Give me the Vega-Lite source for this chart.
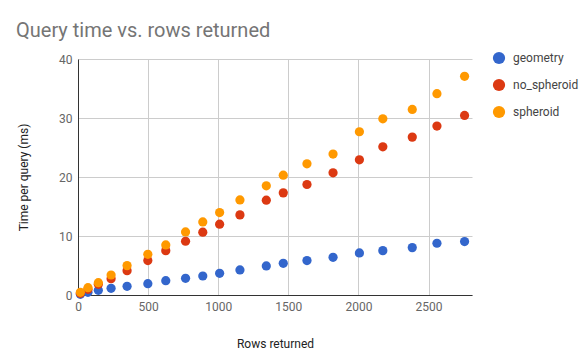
{
  "$schema": "https://vega.github.io/schema/vega-lite/v6.json",
  "autosize": "none",
  "padding": {"left": 78, "top": 59, "right": 114, "bottom": 64},
  "width": 394,
  "height": 236,
  "background": "white",
  "title": {
    "text": "Query time vs. rows returned",
    "anchor": "start",
    "frame": "group",
    "dx": -62,
    "offset": 10,
    "fontSize": 20,
    "font": "Roboto",
    "fontWeight": "normal",
    "color": "#757575"
  },
  "config": {
    "view": {"stroke": null},
    "font": "Roboto"
  },
  "data": {
    "values": [
      {"rows": 17, "series": "geometry", "time": 0.11},
      {"rows": 71, "series": "geometry", "time": 0.45},
      {"rows": 145, "series": "geometry", "time": 0.8},
      {"rows": 236, "series": "geometry", "time": 1.13},
      {"rows": 350, "series": "geometry", "time": 1.47},
      {"rows": 498, "series": "geometry", "time": 1.92},
      {"rows": 626, "series": "geometry", "time": 2.43},
      {"rows": 767, "series": "geometry", "time": 2.83},
      {"rows": 890, "series": "geometry", "time": 3.22},
      {"rows": 1010, "series": "geometry", "time": 3.68},
      {"rows": 1155, "series": "geometry", "time": 4.24},
      {"rows": 1343, "series": "geometry", "time": 4.92},
      {"rows": 1464, "series": "geometry", "time": 5.37},
      {"rows": 1633, "series": "geometry", "time": 5.83},
      {"rows": 1819, "series": "geometry", "time": 6.39},
      {"rows": 2007, "series": "geometry", "time": 7.13},
      {"rows": 2174, "series": "geometry", "time": 7.52},
      {"rows": 2384, "series": "geometry", "time": 8.03},
      {"rows": 2560, "series": "geometry", "time": 8.77},
      {"rows": 2757, "series": "geometry", "time": 9.05},
      {"rows": 17, "series": "no_spheroid", "time": 0.28},
      {"rows": 71, "series": "no_spheroid", "time": 0.96},
      {"rows": 145, "series": "no_spheroid", "time": 1.81},
      {"rows": 236, "series": "no_spheroid", "time": 2.77},
      {"rows": 350, "series": "no_spheroid", "time": 4.13},
      {"rows": 498, "series": "no_spheroid", "time": 5.83},
      {"rows": 626, "series": "no_spheroid", "time": 7.52},
      {"rows": 767, "series": "no_spheroid", "time": 9.11},
      {"rows": 890, "series": "no_spheroid", "time": 10.64},
      {"rows": 1010, "series": "no_spheroid", "time": 12.0},
      {"rows": 1155, "series": "no_spheroid", "time": 13.58},
      {"rows": 1343, "series": "no_spheroid", "time": 16.07},
      {"rows": 1464, "series": "no_spheroid", "time": 17.31},
      {"rows": 1633, "series": "no_spheroid", "time": 18.73},
      {"rows": 1819, "series": "no_spheroid", "time": 20.71},
      {"rows": 2007, "series": "no_spheroid", "time": 22.91},
      {"rows": 2174, "series": "no_spheroid", "time": 25.12},
      {"rows": 2384, "series": "no_spheroid", "time": 26.76},
      {"rows": 2560, "series": "no_spheroid", "time": 28.63},
      {"rows": 2757, "series": "no_spheroid", "time": 30.44},
      {"rows": 17, "series": "spheroid", "time": 0.45},
      {"rows": 71, "series": "spheroid", "time": 1.24},
      {"rows": 145, "series": "spheroid", "time": 2.09},
      {"rows": 236, "series": "spheroid", "time": 3.39},
      {"rows": 350, "series": "spheroid", "time": 4.98},
      {"rows": 498, "series": "spheroid", "time": 6.9},
      {"rows": 626, "series": "spheroid", "time": 8.49},
      {"rows": 767, "series": "spheroid", "time": 10.69},
      {"rows": 890, "series": "spheroid", "time": 12.39},
      {"rows": 1010, "series": "spheroid", "time": 13.97},
      {"rows": 1155, "series": "spheroid", "time": 16.12},
      {"rows": 1343, "series": "spheroid", "time": 18.5},
      {"rows": 1464, "series": "spheroid", "time": 20.31},
      {"rows": 1633, "series": "spheroid", "time": 22.24},
      {"rows": 1819, "series": "spheroid", "time": 23.88},
      {"rows": 2007, "series": "spheroid", "time": 27.67},
      {"rows": 2174, "series": "spheroid", "time": 29.87},
      {"rows": 2384, "series": "spheroid", "time": 31.46},
      {"rows": 2560, "series": "spheroid", "time": 34.12},
      {"rows": 2757, "series": "spheroid", "time": 37.06}
    ]
  },
  "mark": {"type": "point", "filled": true, "opacity": 1, "size": 85, "shape": "circle"},
  "encoding": {
    "x": {
      "field": "rows",
      "type": "quantitative",
      "scale": {"domain": [0, 2810], "nice": false, "zero": true},
      "axis": {
        "title": "Rows returned",
        "titleFontSize": 12,
        "titleFontWeight": "normal",
        "titleColor": "#222222",
        "titlePadding": 26,
        "values": [0, 500, 1000, 1500, 2000, 2500],
        "format": "d",
        "labelFontSize": 12,
        "labelColor": "#666666",
        "labelPadding": 6,
        "domainColor": "#333333",
        "domainWidth": 1,
        "ticks": false,
        "gridColor": "#cccccc",
        "labelFlush": false
      }
    },
    "y": {
      "field": "time",
      "type": "quantitative",
      "scale": {"domain": [0, 40], "nice": false},
      "axis": {
        "title": "Time per query (ms)",
        "titleFontSize": 12,
        "titleFontWeight": "normal",
        "titleColor": "#222222",
        "titlePadding": 28,
        "values": [0, 10, 20, 30, 40],
        "labelFontSize": 12,
        "labelColor": "#666666",
        "labelPadding": 6,
        "domainColor": "#333333",
        "ticks": false,
        "gridColor": "#cccccc"
      }
    },
    "color": {
      "field": "series",
      "type": "nominal",
      "scale": {"domain": ["geometry", "no_spheroid", "spheroid"], "range": ["#3366cc", "#dc3912", "#ff9900"]},
      "legend": {
        "title": null,
        "orient": "none",
        "legendX": 414,
        "legendY": -8,
        "symbolType": "circle",
        "symbolSize": 150,
        "symbolOpacity": 1,
        "labelFontSize": 12,
        "labelColor": "#444444",
        "labelOffset": 7,
        "rowPadding": 13
      }
    }
  }
}
